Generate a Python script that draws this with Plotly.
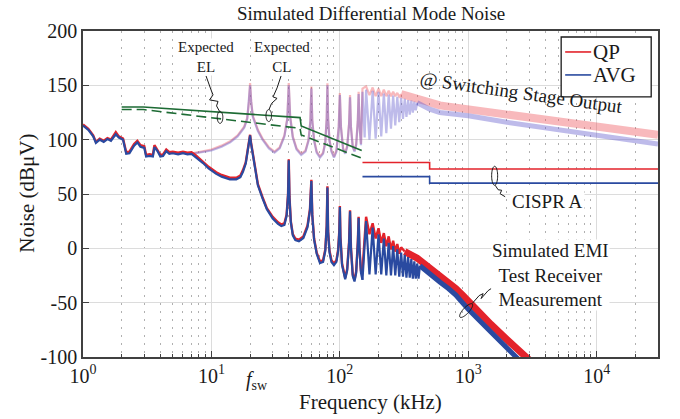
import numpy as np
import plotly.graph_objects as go

# ---------------- data (frequency in kHz, level in dBuV) ----------------
# Simulated EMI test receiver, 1-150 kHz (shared frequency grid)
rx_f_low = [1.0, 1.1, 1.2, 1.26, 1.35, 1.45, 1.55, 1.65, 1.8, 1.9,
            2.05, 2.12, 2.17, 2.3, 2.5, 2.65, 2.8, 3.0, 3.1, 3.3,
            3.5, 3.6, 3.8, 4.0, 4.2, 4.45, 4.7, 5.0, 5.5, 6.0,
            6.5, 7.0, 7.5, 8.0, 8.6, 9.5, 10.9, 12.0, 13.9, 15.6,
            16.8, 17.6, 18.5, 19.2, 19.7, 20.0, 20.3, 21.0, 22.0, 23.0,
            25.0, 27.0, 30.0, 33.0, 35.0, 37.0, 38.5, 39.5, 40.0, 40.5,
            41.5, 43.0, 45.0, 48.0, 52.0, 56.0, 58.5, 60.0, 61.0, 63.0,
            66.0, 70.0, 74.0, 77.0, 79.0, 80.0, 81.0, 83.0, 86.0, 90.0,
            94.0, 97.0, 99.0, 100.0, 101.0, 104.0, 110.0, 114.0, 118.0, 120.0,
            122.0, 126.0, 130.0, 134.0, 138.0, 140.0, 142.0, 146.0, 150.0]
rx_qp_low = [114, 110, 104, 98, 101, 99, 101.5, 100, 107, 103,
             101, 94, 88.5, 89, 96, 99, 95, 94, 86, 86.5,
             86, 95, 91, 86, 86.5, 91, 88.5, 89, 88, 89,
             88, 88.5, 86, 83, 80, 75, 70, 67.5, 65, 65,
             67, 72, 79, 91, 101, 104.5, 98, 88, 71, 59,
             47, 37, 29, 24, 22, 23, 31, 50, 82, 48,
             25, 13, 9, 8, 11, 21, 36, 63, 31, 9,
             -4, -12, -11, -1, 21, 57, 16, -2, -11, -14,
             -11, -1, 16, 39, 11, -14, -27, -19, 6, 35,
             1, -24, -29, -21, 6, 29, 1, -21, -20]
rx_avg_low = [113, 109, 103, 97, 100, 98, 100.5, 99, 105, 102,
              100, 93, 87, 87.5, 94.5, 97.5, 93.5, 92.5, 84.5, 85,
              84.5, 93, 89.5, 84.5, 85, 89.5, 87, 87.5, 86.5, 87.5,
              86.5, 87, 84.5, 81.5, 78.5, 73.5, 68.5, 66, 63.5, 63.5,
              65.5, 70.5, 78, 90, 100.5, 104, 97, 87, 70, 58,
              46, 36, 27.5, 22.5, 20.5, 21.5, 30, 49, 81, 47,
              24, 12, 7.5, 6.5, 9.5, 19.5, 35, 62, 30, 8,
              -5, -13.5, -12.5, -2.5, 20, 56, 15, -3.5, -12.5, -15.5,
              -12.5, -2.5, 15, 38, 10, -15.5, -28.5, -20.5, 5, 34,
              0, -25.5, -30.5, -22.5, 5, 28, 0, -22.5, -29]

# Simulated EMI test receiver above 150 kHz
rx_qp_hi_f = [150, 160, 170, 180, 190, 200, 210, 220, 230, 240,
              250, 260, 270, 280, 290, 300, 320, 350, 400, 500,
              600, 700, 800, 900, 1000, 1500, 2000, 2500, 2850, 3000]
rx_qp_hi = [-20, 29, 13, 23, 9, 18.5, 5, 14, 2, 11,
            -1, 7, -3, 4, -5, 1, -3, -5, -9, -18,
            -25, -31, -37, -43, -49, -70, -84, -94.5, -100, -103]
rx_avg_hi_f = [150, 160, 170, 180, 190, 200, 210, 220, 230, 240,
               250, 260, 270, 280, 290, 300, 310, 320, 330, 340,
               350, 360, 370, 380, 390, 400, 410, 420, 500, 600,
               700, 800, 900, 1000, 1500, 2000, 2380, 2500]
rx_avg_hi = [-29, 25, -24, 19, -24, 13, -24, 9, -25, 5,
             -25, 2, -25, -1, -26, -4, -26, -6, -27, -8,
             -27, -10, -28, -12, -28, -14, -28, -16, -24, -31,
             -37, -43, -50, -56, -77, -91, -100, -103]

# Noise at the switching stage output
up_qp_f = [7, 8, 10, 12, 14, 16, 18, 19, 19.6, 20,
           20.4, 21, 23, 25, 28, 31, 34, 37, 39, 40,
           41, 43, 46, 50, 54, 57, 59, 60, 61, 63,
           66, 70, 74, 77, 79, 80, 81, 83, 86, 90,
           94, 98, 100, 102, 106, 110, 114, 118, 120, 122,
           126, 130, 134, 138, 140, 142, 146, 150, 160, 170,
           180, 190, 200, 210, 220, 230, 240, 250, 260, 270,
           280, 290, 300, 400, 500, 600, 800, 1000, 2000, 3000,
           5000, 10000, 20000, 30000]
up_qp = [87.5, 88.5, 91, 94.5, 98.5, 104, 112, 120, 135, 152,
         135, 122, 109, 101, 93, 89, 93, 104, 120, 152,
         122, 103, 92, 87, 90, 100, 118, 149, 118, 100,
         89, 84.5, 88, 98, 120, 152, 120, 100, 90, 84.5,
         90, 112, 143, 112, 92, 88, 94, 115, 141, 112,
         94, 90, 96, 118, 144, 115, 96, 147, 149, 141,
         148, 140, 147, 140, 146, 140, 145, 140, 144, 140,
         143, 139.5, 142, 137.5, 134.5, 131.5, 129.5, 128, 123, 120,
         117, 112.7, 107.5, 104.4]
up_avg_f = [7, 8, 10, 12, 14, 16, 18, 19, 19.6, 20,
            20.4, 21, 23, 25, 28, 31, 34, 37, 39, 40,
            41, 43, 46, 50, 54, 57, 59, 60, 61, 63,
            66, 70, 74, 77, 79, 80, 81, 83, 86, 90,
            94, 98, 100, 102, 106, 110, 114, 118, 120, 122,
            126, 130, 134, 138, 140, 142, 146, 150, 156, 160,
            170, 180, 190, 200, 210, 220, 230, 240, 250, 260,
            270, 280, 290, 300, 310, 320, 330, 340, 350, 360,
            370, 380, 390, 400, 500, 600, 800, 1000, 2000, 3000,
            5000, 10000, 20000, 30000]
up_avg = [87, 88, 90, 93.5, 97.5, 103, 111, 119, 134, 150,
          134, 121, 108, 100, 92, 88, 92, 103, 119, 150,
          121, 102, 91, 86, 89, 99, 117, 147, 117, 99,
          88, 83.5, 87, 97, 119, 150, 119, 99, 89, 83.5,
          89, 111, 141, 111, 91, 87, 93, 114, 139, 111,
          93, 89, 95, 117, 142, 114, 95, 144, 102, 146,
          100, 145, 101, 144, 103, 142.5, 106, 141.5, 110, 140.5,
          113, 139.5, 116, 138.5, 119, 137.5, 121, 136.5, 123, 136,
          125, 135, 127, 134, 128, 125, 123, 122, 116, 113,
          109.5, 104, 99, 96]

# Expected conducted-emission lines
cl_f = [2, 2.95, 49, 50, 148]
cl_v = [130, 130, 120.3, 112.6, 90]
el_f = [2, 2.95, 49, 50, 148]
el_v = [127.7, 127.7, 110.4, 104.3, 83]

# CISPR 22 class A limits
cispr_f = [150, 500, 500, 30000]
cispr_qp = [79, 79, 73, 73]
cispr_avg = [66, 66, 60, 60]

legend_names = ["QP", "AVG"]
x_tickvals = [1, 10, 100, 1000, 10000]
x_ticktext = ["10<sup>0</sup>", "10<sup>1</sup>", "10<sup>2</sup>", "10<sup>3</sup>", "10<sup>4</sup>"]
y_tickvals = [-100, -50, 0, 50, 100, 150, 200]
y_ticktext = ["-100", "-50", "0", "50", "100", "150", "200"]

# ---------------- styling ----------------
RED = "#e3232b"
BLUE = "#2a4aa0"
PINK = "rgba(238,80,88,0.40)"
LAV = "rgba(100,92,205,0.42)"
GREEN = "#1d6b34"
FONT = "Liberation Serif, Tinos, Times New Roman, serif"
TXT = "#1a1a1a"

# plot-area pixel geometry (for decorations only)
L, T, W, H = 83.0, 31.0, 574.8, 326.5


def px(x):
    return (x - L) / W


def py(y):
    return (T + H - y) / H


def seg(f, v, lo=None, hi=None):
    f = np.asarray(f, float)
    v = np.asarray(v, float)
    m = np.ones(f.shape, bool)
    if lo is not None:
        m &= f >= lo
    if hi is not None:
        m &= f <= hi
    return f[m], v[m]


fig = go.Figure()


def add_line(f, v, color, width, name=None, dash="solid"):
    fig.add_trace(go.Scatter(x=f, y=v, mode="lines", name=name, showlegend=False,
                             line=dict(color=color, width=width, dash=dash),
                             hoverinfo="skip"))


# switching stage output
add_line(*seg(up_qp_f, up_qp, hi=300), PINK, 2.2)
add_line(*seg(up_qp_f, up_qp, lo=300), PINK, 8)
add_line(*seg(up_avg_f, up_avg, hi=400), LAV, 2.2)
add_line(*seg(up_avg_f, up_avg, lo=400), LAV, 5)

# expected lines
add_line(cl_f, cl_v, GREEN, 1.6, name="Expected CL")
add_line(el_f, el_v, GREEN, 1.6, name="Expected EL", dash="10px,5px")

# CISPR limits
add_line(cispr_f, cispr_qp, RED, 1.6, name="CISPR A QP")
add_line(cispr_f, cispr_avg, BLUE, 1.6, name="CISPR A AVG")

# receiver
add_line(rx_f_low, rx_qp_low, RED, 2.4)
add_line(*seg(rx_qp_hi_f, rx_qp_hi, hi=320), RED, 2.4)
add_line(*seg(rx_qp_hi_f, rx_qp_hi, lo=320), RED, 7)
add_line(rx_f_low, rx_avg_low, BLUE, 2.2)
add_line(*seg(rx_avg_hi_f, rx_avg_hi, hi=420), BLUE, 2.2)
add_line(*seg(rx_avg_hi_f, rx_avg_hi, lo=420), BLUE, 5)

minor_vals = [k * 10 ** n for n in range(0, 5) for k in range(2, 10) if k * 10 ** n <= 30000]

fig.update_layout(
    width=680, height=419,
    margin=dict(l=L, r=680 - L - W, t=T, b=419 - T - H),
    paper_bgcolor="white", plot_bgcolor="white",
    font=dict(family=FONT, size=20, color=TXT),
    showlegend=False,
)

fig.update_xaxes(type="log", range=[0, np.log10(30000)],
                 tickmode="array", tickvals=x_tickvals, ticktext=x_ticktext,
                 ticks="inside", ticklen=6, tickcolor="#404040",
                 showgrid=True, gridcolor="#dcdcdc", gridwidth=1,
                 showline=True, linecolor="#404040", linewidth=1.5, mirror=True,
                 zeroline=False, tickfont=dict(size=20, family=FONT, color=TXT),
                 minor=dict(tickmode="array", tickvals=minor_vals, ticks="inside", ticklen=3.5,
                            tickcolor="#404040", showgrid=True, gridcolor="#b0b0b0",
                            griddash="2px,6px", gridwidth=1))
fig.update_yaxes(range=[-100, 200], tickmode="array", tickvals=y_tickvals, ticktext=y_ticktext,
                 ticks="inside", ticklen=6, tickcolor="#404040",
                 showgrid=True, gridcolor="#dcdcdc", gridwidth=1,
                 showline=True, linecolor="#404040", linewidth=1.5, mirror=True,
                 zeroline=False, tickfont=dict(size=20, family=FONT, color=TXT))


def note(text, x, y, size, angle=0, bg=None, pad=1, anchor="center"):
    fig.add_annotation(text=text, x=px(x), y=py(y), xref="paper", yref="paper",
                       showarrow=False, textangle=angle, font=dict(size=size, family=FONT, color=TXT),
                       bgcolor=bg, borderpad=pad, xanchor=anchor, yanchor="middle")


note("Simulated Differential Mode Noise", 371, 13, 19)
note("Frequency (kHz)", 370, 403, 21)
note("Noise (dBμV)", 27, 193, 21, angle=-90)
note("<i>f</i><sub>sw</sub>", 257, 381, 20)
note("Expected<br>EL", 206, 57, 15, bg="white", pad=0)
note("Expected<br>CL", 282, 57, 15, bg="white", pad=0)
note("@ Switching Stage Output", 521, 93, 19, angle=8)
note("CISPR A", 547, 202, 19, bg="white")
note("Simulated EMI<br>Test Receiver<br>Measurement", 550, 275, 19, bg="white", pad=0)


def path_from(points):
    return "M " + " L ".join(f"{px(a):.5f},{py(b):.5f}" for a, b in points)


def leader(points):
    fig.add_shape(type="path", path=path_from(points), xref="paper", yref="paper",
                  line=dict(color=TXT, width=1))


def ellipse(cx, cy, rx, ry, ang=0.0):
    t = np.linspace(0, 2 * np.pi, 41)
    a = np.deg2rad(ang)
    xs = cx + rx * np.cos(t) * np.cos(a) - ry * np.sin(t) * np.sin(a)
    ys = cy - (rx * np.cos(t) * np.sin(a) + ry * np.sin(t) * np.cos(a))
    fig.add_shape(type="path", path=path_from(list(zip(xs, ys))) + " Z",
                  xref="paper", yref="paper", line=dict(color=TXT, width=1))


leader([(206, 76), (211, 90), (213, 95), (209.5, 100), (218, 101.5), (216.5, 106), (219.5, 111.5)])
ellipse(220, 117.5, 2.8, 6)
leader([(281, 76), (277, 88), (273, 97), (277, 98.5), (271.5, 103.5), (269, 109.5)])
ellipse(268.7, 115.7, 2.8, 6)
leader([(495, 185.5), (498, 190), (501.5, 190.5), (500, 194), (505, 197)])
ellipse(494.5, 176, 3, 9.5)
leader([(472, 304), (479, 296), (483, 294), (481, 299), (488, 291), (491, 289)])
ellipse(466, 311, 9, 3, ang=47)

# legend box (QP / AVG)
fig.add_shape(type="rect", x0=px(561), x1=px(651), y0=py(97), y1=py(37), xref="paper", yref="paper",
              fillcolor="white", line=dict(color=TXT, width=1.3), layer="above")
for i, (nm, col) in enumerate(zip(legend_names, [RED, BLUE])):
    yy = 52 + 23 * i
    fig.add_shape(type="line", x0=px(565), x1=px(591), y0=py(yy), y1=py(yy), xref="paper", yref="paper",
                  line=dict(color=col, width=1.6))
    note(nm, 592, yy, 21, anchor="left", pad=0)

fig.write_html("out.html")
